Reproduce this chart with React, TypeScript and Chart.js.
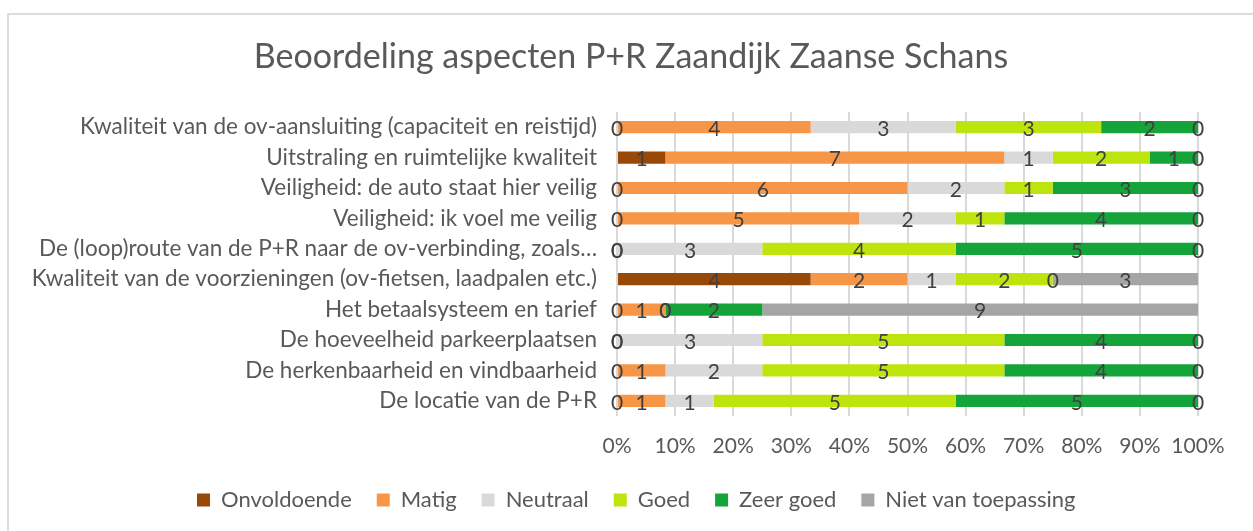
import React, { useEffect, useRef } from "react";
import { Chart, registerables } from "chart.js";

Chart.register(...registerables);

const chartTitle = "Beoordeling aspecten P+R Zaandijk Zaanse Schans";

const categories = [
  "Kwaliteit van de ov-aansluiting (capaciteit en reistijd)",
  "Uitstraling en ruimtelijke kwaliteit",
  "Veiligheid: de auto staat hier veilig",
  "Veiligheid: ik voel me veilig",
  "De (loop)route van de P+R naar de ov-verbinding, zoals…",
  "Kwaliteit van de voorzieningen (ov-fietsen, laadpalen etc.)",
  "Het betaalsysteem en tarief",
  "De hoeveelheid parkeerplaatsen",
  "De herkenbaarheid en vindbaarheid",
  "De locatie van de P+R",
];

const seriesNames = ["Onvoldoende", "Matig", "Neutraal", "Goed", "Zeer goed", "Niet van toepassing"];

const onvoldoende = [0, 1, 0, 0, 0, 4, 0, 0, 0, 0];
const matig = [4, 7, 6, 5, 0, 2, 1, 0, 1, 1];
const neutraal = [3, 1, 2, 2, 3, 1, 0, 3, 2, 1];
const goed = [3, 2, 1, 1, 4, 2, 0, 5, 5, 5];
const zeerGoed = [2, 1, 3, 4, 5, 0, 2, 4, 4, 5];
const nietVanToepassing = [0, 0, 0, 0, 0, 3, 9, 0, 0, 0];

const seriesColors = ["#984807", "#F79646", "#D9D9D9", "#BDE50D", "#15A43A", "#A5A5A5"];

const xTickValues = [0, 10, 20, 30, 40, 50, 60, 70, 80, 90, 100];

const counts = [onvoldoende, matig, neutraal, goed, zeerGoed, nietVanToepassing];
const totals = categories.map((_, i) => counts.reduce((s, arr) => s + arr[i], 0));

const FONT = "Lato, 'Open Sans', sans-serif";
const TEXT = "#595959";

const valueLabelPlugin = {
  id: "valueLabels",
  afterDatasetsDraw(chart: any) {
    const ctx = chart.ctx;
    ctx.save();
    ctx.font = `21px ${FONT}`;
    ctx.fillStyle = "#404040";
    ctx.textAlign = "center";
    ctx.textBaseline = "middle";
    chart.data.datasets.forEach((_: any, di: number) => {
      const meta = chart.getDatasetMeta(di);
      meta.data.forEach((el: any, i: number) => {
        const p = el.getProps(["x", "base", "y"], true);
        ctx.fillText(String(counts[di][i]), (p.x + p.base) / 2, p.y + 2);
      });
    });
    ctx.restore();
  },
};

const placementPlugin = {
  id: "placement",
  afterLayout(chart: any) {
    const t = chart.titleBlock;
    if (t) {
      t.left = 0;
      t.right = 1262;
      t.width = 1262;
    }
    const l = chart.legend;
    if (l) {
      const pad = l.options.labels.padding;
      l.left = 197 - pad;
      l.right = 1253;
      l.width = l.right - l.left;
      l.top = 500 - pad - 11;
    }
  },
};

export default function App() {
  const ref = useRef<HTMLCanvasElement | null>(null);

  useEffect(() => {
    if (!ref.current) return;
    const chart = new Chart(ref.current, {
      type: "bar",
      data: {
        labels: categories,
        datasets: seriesNames.map((name, di) => ({
          label: name,
          data: counts[di].map((v, i) => (v / totals[i]) * 100),
          backgroundColor: seriesColors[di],
          borderWidth: 0,
          barPercentage: 0.4,
          categoryPercentage: 1,
        })),
      },
      options: {
        indexAxis: "y",
        responsive: false,
        animation: false,
        devicePixelRatio: 1,
        layout: { padding: { left: 0, right: 55, top: 0, bottom: 0 } },
        scales: {
          x: {
            stacked: true,
            min: 0,
            max: 100,
            afterBuildTicks: (scale: any) => {
              scale.ticks = xTickValues.map((v) => ({ value: v }));
            },
            afterFit: (scale: any) => {
              scale.height = 85;
            },
            grid: { color: "#D9D9D9", lineWidth: 2, drawTicks: false },
            border: { display: false },
            ticks: {
              color: TEXT,
              font: { family: FONT, size: 21 },
              padding: 18,
              maxRotation: 0,
              autoSkip: false,
              callback: (v: any) => `${v}%`,
            },
          },
          y: {
            stacked: true,
            afterFit: (scale: any) => {
              scale.width = 617;
            },
            grid: { display: false, drawTicks: false },
            border: { display: false },
            ticks: {
              color: TEXT,
              font: { family: FONT, size: 22.5 },
              padding: 20,
              autoSkip: false,
            },
          },
        },
        plugins: {
          title: {
            display: true,
            text: chartTitle,
            color: TEXT,
            font: { family: FONT, size: 34, weight: "normal" as any, lineHeight: 1.2 },
            padding: { top: 36.6, bottom: 34.6 },
          },
          legend: {
            display: true,
            position: "bottom",
            align: "start",
            maxHeight: 30,
            labels: {
              color: TEXT,
              font: { family: FONT, size: 22 },
              boxWidth: 13,
              boxHeight: 13,
              padding: 25,
            },
          },
          tooltip: { enabled: false },
        },
      },
      plugins: [valueLabelPlugin, placementPlugin],
    });
    return () => chart.destroy();
  }, []);

  return (
    <div style={{ position: "fixed", left: 0, top: 0, width: 1253, height: 531, overflow: "hidden", background: "#fff" }}>
      <div
        style={{
          position: "absolute",
          left: 7,
          top: 13,
          width: 1300,
          height: 600,
          border: "2px solid #DCDCDC",
          boxSizing: "border-box",
        }}
      />
      <canvas ref={ref} width={1253} height={531} style={{ position: "absolute", left: 0, top: 0 }} />
    </div>
  );
}
